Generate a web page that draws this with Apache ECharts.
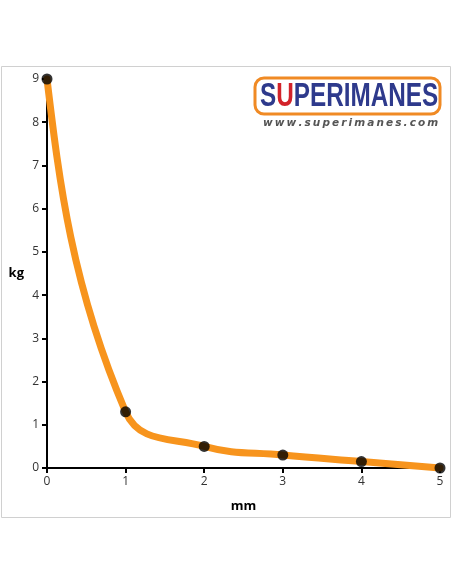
<!DOCTYPE html>
<html><head><meta charset="utf-8">
<script src="https://cdn.jsdelivr.net/npm/echarts@6/dist/echarts.min.js"></script>
<style>html,body{margin:0;padding:0;background:#fff}#c{width:452px;height:584px}</style>
</head><body><div id="c"></div>
<script>
const xValues = [0, 1, 2, 3, 4, 5];
const yValues = [9, 1.3, 0.5, 0.3, 0.15, 0];
const xTicks = [0, 1, 2, 3, 4, 5];
const yTicks = [0, 1, 2, 3, 4, 5, 6, 7, 8, 9];
const xName = 'mm';
const yName = 'kg';
const url = 'www.superimanes.com';

const chart = echarts.init(document.getElementById('c'), null, {renderer: 'canvas'});
const font = '"Open Sans", sans-serif';
const axisCommon = {
  axisLine: {show: true, onZero: false, lineStyle: {color: '#000', width: 2}},
  axisTick: {show: true, length: 5, lineStyle: {color: '#000', width: 2}},
  axisLabel: {color: '#333', fontSize: 12, fontFamily: font},
  splitLine: {show: false}
};
const points = xValues.map((x, i) => [x, yValues[i]]);

function splineRender(params, api) {
  if (params.dataIndex !== 0) return null;
  const p = points.map(d => api.coord(d));
  const n = p.length;
  const k = 0.4;
  const len = (a, b) => Math.hypot(b[0] - a[0], b[1] - a[1]);
  const dir = p.map((pt, i) => {
    if (i === 0 || i === n - 1) return null;
    const v = [p[i + 1][0] - p[i - 1][0], p[i + 1][1] - p[i - 1][1]];
    const l = Math.hypot(v[0], v[1]);
    return [v[0] / l, v[1] / l];
  });
  let d = 'M' + p[0][0] + ' ' + p[0][1];
  for (let i = 0; i < n - 1; i++) {
    const L = len(p[i], p[i + 1]) * k;
    let c1 = dir[i] ? [p[i][0] + dir[i][0] * L, p[i][1] + dir[i][1] * L] : null;
    let c2 = dir[i + 1] ? [p[i + 1][0] - dir[i + 1][0] * L, p[i + 1][1] - dir[i + 1][1] * L] : null;
    if (!c1) c1 = [(p[i][0] + c2[0]) / 2, (p[i][1] + c2[1]) / 2];
    if (!c2) c2 = [(p[i + 1][0] + c1[0]) / 2, (p[i + 1][1] + c1[1]) / 2];
    d += ' C' + c1[0] + ' ' + c1[1] + ' ' + c2[0] + ' ' + c2[1] + ' ' + p[i + 1][0] + ' ' + p[i + 1][1];
  }
  return {type: 'path', shape: {pathData: d}, style: {fill: null, stroke: '#F7941D', lineWidth: 7, lineCap: 'round', lineJoin: 'round'}};
}

chart.setOption({
  animation: false,
  backgroundColor: '#fff',
  grid: {left: 47, right: 12, top: 79, bottom: 116, containLabel: false, outerBoundsMode: 'none'},
  xAxis: Object.assign({
    type: 'value', min: xTicks[0], max: xTicks[xTicks.length - 1], interval: 1,
    name: xName, nameLocation: 'middle', nameGap: 32,
    nameTextStyle: {color: '#000', fontWeight: 'bold', fontSize: 13, fontFamily: font}
  }, axisCommon),
  yAxis: Object.assign({
    type: 'value', min: yTicks[0], max: yTicks[yTicks.length - 1], interval: 1,
    name: yName, nameLocation: 'middle', nameGap: 23, nameRotate: 0,
    nameTextStyle: {color: '#000', fontWeight: 'bold', fontSize: 13, fontFamily: font}
  }, axisCommon),
  graphic: [
    {type: 'rect', shape: {x: 1.5, y: 66.5, width: 449, height: 451}, style: {fill: 'none', stroke: '#d0d0d0', lineWidth: 1}, z: -1},
    {type: 'rect', shape: {x: 255, y: 78, width: 185, height: 36, r: 9}, style: {fill: '#fff', stroke: '#F08A24', lineWidth: 3}},
    {type: 'text', x: 260, y: 80, scaleX: 0.715, scaleY: 1,
      style: {text: '{s|S}{u|U}{s|PERIMANES}', rich: {
        s: {fontSize: 34, fontWeight: 'bold', fill: '#2E3A8C', fontFamily: '"Liberation Sans", Arial, sans-serif'},
        u: {fontSize: 34, fontWeight: 'bold', fill: '#D2232A', fontFamily: '"Liberation Sans", Arial, sans-serif'}
      }}},
    {type: 'text', x: 263, y: 118,
      style: {text: url.split('').join('\u2009'), fontSize: 10.5, fontWeight: 'bold', fontStyle: 'italic', fill: '#555', fontFamily: '"DejaVu Sans", sans-serif'}}
  ],
  series: [{
    type: 'custom',
    renderItem: splineRender,
    data: points,
    encode: {x: 0, y: 1},
    z: 2,
    silent: true
  }, {
    type: 'scatter',
    data: points,
    symbol: 'circle', symbolSize: 11,
    itemStyle: {color: '#000'},
    clip: false,
    z: 3
  }]
});
</script></body></html>
